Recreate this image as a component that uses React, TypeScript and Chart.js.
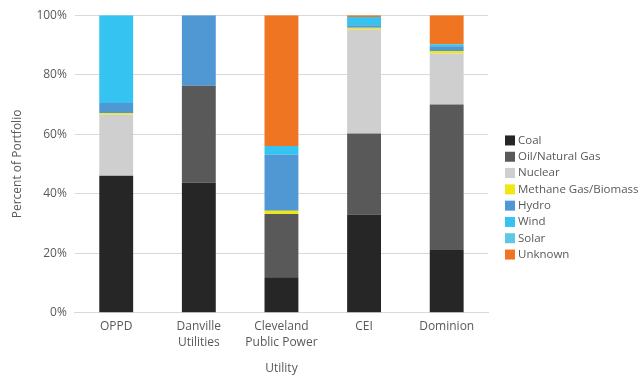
import React, { useEffect, useRef } from "react";
import { Chart, registerables } from "chart.js";

Chart.register(...registerables);

const categories: (string | string[])[] = ["OPPD", ["Danville", "Utilities"], ["Cleveland", "Public Power"], "CEI", "Dominion"];
const seriesNames = ["Coal", "Oil/Natural Gas", "Nuclear", "Methane Gas/Biomass", "Hydro", "Wind", "Solar", "Unknown"];
const coal = [46, 43.7, 11.9, 33, 21.1];
const oilGas = [0, 32.6, 21.3, 27.2, 48.9];
const nuclear = [20.5, 0, 0, 35.1, 17.1];
const methane = [0.5, 0, 1.1, 0.5, 0.9];
const hydro = [3.5, 23.7, 18.8, 0.8, 1.6];
const wind = [29.5, 0, 2.9, 2.8, 0.6];
const solar = [0, 0, 0, 0, 0];
const unknown = [0, 0, 44, 0.6, 9.8];
const yTicks = [0, 20, 40, 60, 80, 100];

const colors = ["#262626", "#595959", "#cfcfcf", "#f0e614", "#4f98d4", "#35c3f1", "#5cc8e2", "#f07522"];
const FONT = "'Open Sans'";

const sideLegend = {
  id: "sideLegend",
  afterDraw(chart: any) {
    const ctx = chart.ctx;
    const area = chart.chartArea;
    const x0 = area.right + 17;
    const step = 16.3;
    const n = chart.data.datasets.length;
    const yStart = 197.5 - ((n - 1) * step) / 2;
    ctx.save();
    ctx.font = `11.5px ${FONT}`;
    ctx.textBaseline = "middle";
    ctx.textAlign = "left";
    chart.data.datasets.forEach((ds: any, i: number) => {
      const y = yStart + i * step;
      ctx.fillStyle = ds.backgroundColor;
      ctx.fillRect(x0, y - 5, 10, 10);
      ctx.fillStyle = "#595959";
      ctx.fillText(ds.label, x0 + 13, y);
    });
    ctx.restore();
  },
};

export default function App() {
  const ref = useRef<HTMLCanvasElement | null>(null);
  useEffect(() => {
    if (!ref.current) return;
    const values = [coal, oilGas, nuclear, methane, hydro, wind, solar, unknown];
    const chart = new Chart(ref.current, {
      type: "bar",
      data: {
        labels: categories,
        datasets: seriesNames.map((name, i) => ({
          label: name,
          data: values[i],
          backgroundColor: colors[i],
          borderWidth: 0,
          barPercentage: 0.82,
          categoryPercentage: 0.5,
        })),
      },
      plugins: [sideLegend],
      options: {
        animation: false,
        responsive: false,
        layout: { padding: { left: 2, right: 152, top: 0, bottom: 0 } },
        plugins: {
          legend: { display: false },
          tooltip: { enabled: false },
        },
        scales: {
          x: {
            stacked: true,
            grid: { display: false, drawTicks: false },
            border: { color: "#d9d9d9" },
            ticks: { color: "#595959", font: { family: FONT, size: 12, lineHeight: 1.33 }, padding: 6 },
            title: { display: true, text: "Utility", color: "#595959", font: { family: FONT, size: 12 }, padding: { top: 5, bottom: 4 } },
          },
          y: {
            stacked: true,
            min: 0,
            max: 100,
            afterBuildTicks: (axis: any) => {
              axis.ticks = yTicks.map((v) => ({ value: v }));
            },
            grid: { color: "#d9d9d9", drawTicks: false },
            border: { display: false },
            ticks: {
              color: "#595959",
              font: { family: FONT, size: 12 },
              padding: 8,
              callback: (v: any) => v + "%",
            },
            title: { display: true, text: "Percent of Portfolio", color: "#595959", font: { family: FONT, size: 12 }, padding: { top: 8, bottom: 4 } },
          },
        },
      },
    });
    return () => chart.destroy();
  }, []);
  return (
    <div style={{ position: "absolute", left: 0, top: 0, width: 640, height: 380, background: "#fff" }}>
      <canvas ref={ref} width={640} height={380} />
    </div>
  );
}
